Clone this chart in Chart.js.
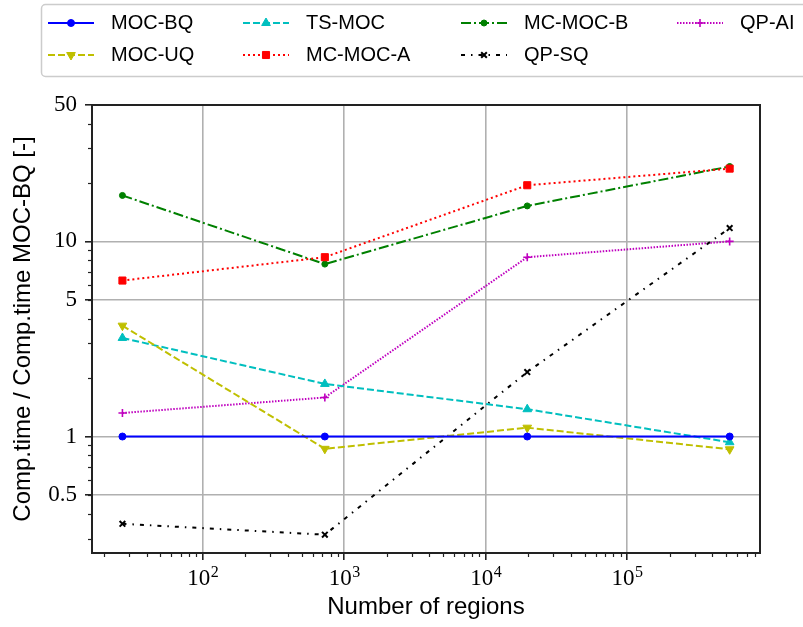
<!DOCTYPE html>
<html>
<head>
<meta charset="utf-8">
<script src="https://cdn.jsdelivr.net/npm/chart.js@4.4.1/dist/chart.umd.min.js"></script>
<style>
  html, body { margin: 0; padding: 0; background: #fff; }
</style>
</head>
<body>
<canvas id="chart" width="803" height="627"></canvas>
<script>
// number of regions (3^3, 3^6, 3^9, 3^12)
const regions = [27, 729, 19683, 531441];

// comp. time relative to MOC-BQ
const mocBQ  = [1, 1, 1, 1];
const mocUQ  = [3.7, 0.865, 1.11, 0.86];
const tsMOC  = [3.2, 1.86, 1.38, 0.935];
const mcMOCA = [6.3, 8.3, 19.4, 23.6];
const mcMOCB = [17.2, 7.65, 15.2, 24.2];
const qpSQ   = [0.357, 0.314, 2.14, 11.7];
const qpAI   = [1.32, 1.585, 8.3, 10.0];

const xTicks = [100, 1000, 10000, 100000];
const yTicks = [0.5, 1, 5, 10, 50];

const SANS = '"Liberation Sans", Arial, sans-serif';
const SERIF = '"Liberation Serif", "DejaVu Serif", serif';

function pts(vals) {
  return regions.map((r, i) => ({ x: r, y: vals[i] }));
}

function serie(label, vals, color, dash, style, radius, extra) {
  return Object.assign({
    label: label,
    data: pts(vals),
    borderColor: color,
    backgroundColor: color,
    borderWidth: 2,
    borderDash: dash,
    pointStyle: style,
    pointRadius: radius,
    pointHoverRadius: radius,
    pointBackgroundColor: color,
    pointBorderColor: color,
    pointBorderWidth: 1,
    pointRotation: 0,
    tension: 0,
    fill: false
  }, extra || {});
}

function minorValues(min, max) {
  const out = [];
  for (let e = Math.floor(Math.log10(min)); e <= Math.ceil(Math.log10(max)); e++) {
    for (let m = 2; m <= 9; m++) {
      const v = m * Math.pow(10, e);
      if (v > min && v < max) out.push(v);
    }
  }
  return out;
}

// frame + minor ticks like matplotlib
const framePlugin = {
  id: 'frame',
  afterDatasetsDraw(chart) {
    const ctx = chart.ctx;
    const a = chart.chartArea;
    const sx = chart.scales.x, sy = chart.scales.y;
    ctx.save();
    ctx.strokeStyle = '#222';
    ctx.lineWidth = 1.2;
    minorValues(sx.min, sx.max).forEach(v => {
      const px = Math.round(sx.getPixelForValue(v)) + 0.5;
      ctx.beginPath(); ctx.moveTo(px, a.bottom); ctx.lineTo(px, a.bottom + 4); ctx.stroke();
    });
    minorValues(sy.min, sy.max).forEach(v => {
      const py = Math.round(sy.getPixelForValue(v)) + 0.5;
      ctx.beginPath(); ctx.moveTo(a.left - 4, py); ctx.lineTo(a.left, py); ctx.stroke();
    });
    ctx.lineWidth = 2;
    ctx.strokeStyle = '#222';
    ctx.strokeRect(a.left, a.top, a.right - a.left, a.bottom - a.top);

    // x labels as 10 with a raised exponent
    ctx.fillStyle = '#000';
    ctx.textBaseline = 'alphabetic';
    ctx.textAlign = 'left';
    xTicks.forEach(v => {
      const base = '10';
      const exp = String(Math.round(Math.log10(v)));
      ctx.font = '23px ' + SERIF;
      const wb = ctx.measureText(base).width;
      ctx.font = '16px ' + SERIF;
      const we = ctx.measureText(exp).width;
      const x0 = sx.getPixelForValue(v) - (wb + we) / 2;
      ctx.font = '23px ' + SERIF;
      ctx.fillText(base, x0, 585);
      ctx.font = '16px ' + SERIF;
      ctx.fillText(exp, x0 + wb + 0.5, 577);
    });
    ctx.restore();
  }
};

// legend, 4 columns filled column by column
const legendCols = [48, 243, 461, 677];
const legendRows = [23, 55];
const legendPlugin = {
  id: 'mplLegend',
  afterDraw(chart) {
    const ctx = chart.ctx;
    ctx.save();
    ctx.beginPath();
    ctx.roundRect(41.5, 4.5, 800, 72, 4);
    ctx.fillStyle = 'rgba(255,255,255,0.85)';
    ctx.fill();
    ctx.strokeStyle = '#cccccc';
    ctx.lineWidth = 1.5;
    ctx.stroke();
    chart.data.datasets.forEach((ds, i) => {
      const x0 = legendCols[Math.floor(i / 2)];
      const y = legendRows[i % 2];
      ctx.strokeStyle = ds.borderColor;
      ctx.lineWidth = ds.borderWidth;
      ctx.setLineDash(ds.borderDash || []);
      ctx.beginPath(); ctx.moveTo(x0, y); ctx.lineTo(x0 + 46, y); ctx.stroke();
      ctx.setLineDash([]);
      ctx.fillStyle = ds.pointBackgroundColor;
      ctx.strokeStyle = ds.pointBorderColor;
      ctx.lineWidth = ds.pointBorderWidth;
      Chart.helpers.drawPoint(ctx, {
        pointStyle: ds.pointStyle,
        radius: ds.pointRadius,
        rotation: ds.pointRotation,
        borderWidth: ds.pointBorderWidth
      }, x0 + 23, y);
      ctx.fillStyle = '#000';
      ctx.font = '20px ' + SANS;
      ctx.textBaseline = 'middle';
      ctx.textAlign = 'left';
      ctx.fillText(ds.label, x0 + 63, y);
    });
    ctx.restore();
  }
};

const datasets = [
  serie('MOC-BQ', mocBQ, '#0000ff', [], 'circle', 3.5),
  serie('MOC-UQ', mocUQ, '#bfbf00', [7, 3], 'triangle', 5, { pointRotation: 180 }),
  serie('TS-MOC', tsMOC, '#00bfbf', [7, 3], 'triangle', 5),
  serie('MC-MOC-A', mcMOCA, '#ff0000', [2, 3], 'rect', 5),
  serie('MC-MOC-B', mcMOCB, '#008000', [10, 3, 2, 3], 'circle', 3),
  serie('QP-SQ', qpSQ, '#000000', [4, 6, 1.5, 6], 'crossRot', 4, { pointBorderWidth: 2 }),
  serie('QP-AI', qpAI, '#bf00bf', [1.5, 1.5], 'cross', 4, { pointBorderWidth: 1.6 })
];

const chart = new Chart(document.getElementById('chart'), {
  type: 'line',
  data: { datasets: datasets },
  plugins: [framePlugin, legendPlugin],
  options: {
    responsive: false,
    devicePixelRatio: 1,
    animation: false,
    layout: { padding: { top: 105, right: 43, left: 0, bottom: 0 } },
    plugins: {
      legend: { display: false },
      tooltip: { enabled: false }
    },
    scales: {
      x: {
        type: 'logarithmic',
        min: 16.45,
        max: 871000,
        bounds: 'data',
        afterBuildTicks: s => { s.ticks = xTicks.map(v => ({ value: v })); },
        afterFit: s => { s.height = 74; },
        border: { display: false },
        grid: { color: '#b0b0b0', lineWidth: 1.6, tickColor: '#222', tickWidth: 1.6, tickLength: 7 },
        ticks: {
          autoSkip: false, maxRotation: 0, minRotation: 0, padding: 5, color: '#000',
          font: { family: SERIF, size: 23 },
          callback: () => ''
        },
        title: {
          display: true, text: 'Number of regions', color: '#000',
          font: { family: SANS, size: 24 }, padding: { top: 0, bottom: 5 }
        }
      },
      y: {
        type: 'logarithmic',
        min: 0.253,
        max: 50,
        bounds: 'data',
        afterBuildTicks: s => { s.ticks = yTicks.map(v => ({ value: v })); },
        afterFit: s => { s.width = 92; },
        border: { display: false },
        grid: { color: '#b0b0b0', lineWidth: 1.6, tickColor: '#222', tickWidth: 1.6, tickLength: 7 },
        ticks: {
          autoSkip: false, padding: 8, color: '#000',
          font: { family: SERIF, size: 23 },
          callback: v => String(v)
        },
        title: {
          display: true, text: 'Comp.time / Comp.time MOC-BQ [-]', color: '#000',
          font: { family: SANS, size: 24 }, padding: { top: 9, bottom: 0 }
        }
      }
    }
  }
});
</script>
</body>
</html>
